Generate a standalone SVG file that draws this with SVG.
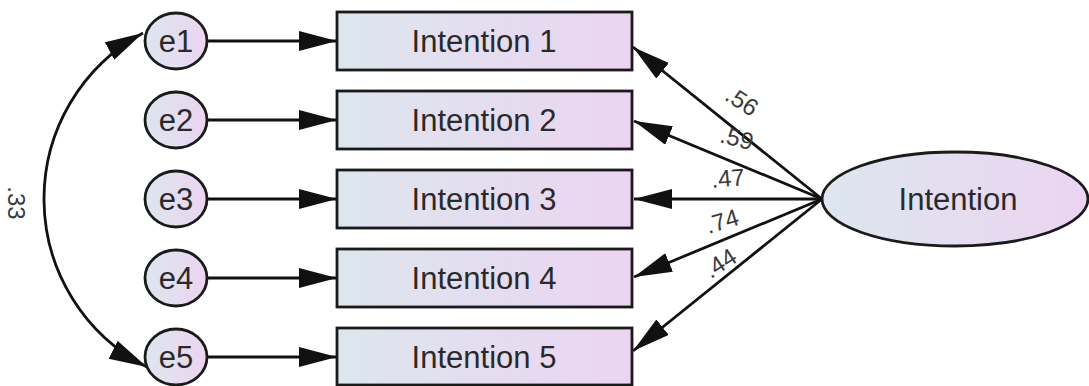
<svg xmlns="http://www.w3.org/2000/svg" width="1089" height="386" viewBox="0 0 1089 386">
<defs>
<linearGradient id="g" x1="0" y1="0" x2="1" y2="0">
<stop offset="0" stop-color="#dde6ee"/>
<stop offset="1" stop-color="#ecd4f1"/>
</linearGradient>
<marker id="ah" markerUnits="userSpaceOnUse" markerWidth="40" markerHeight="22" refX="38" refY="10" orient="auto-start-reverse">
<path d="M0,0 L38,10 L0,20 z" fill="#111"/>
</marker>
<style>
.n{fill:url(#g);stroke:#1a1a1a;stroke-width:2.8}
.t{font-family:"Liberation Sans",Arial,sans-serif;fill:#2a2a2a;text-anchor:middle;dominant-baseline:central}
.lt{font-size:31px}
.c{font-family:"Liberation Sans",Arial,sans-serif;fill:#3a3a3a;font-size:24px;text-anchor:middle;dominant-baseline:central}
.e{stroke:#111;stroke-width:2.8;fill:none;marker-end:url(#ah)}
</style>
</defs>
<g id="connectors">
<path class="e" d="M207,41 L337,41"/>
<path class="e" d="M207,120 L337,120"/>
<path class="e" d="M207,199 L337,199"/>
<path class="e" d="M207,278 L337,278"/>
<path class="e" d="M207,357 L337,357"/>
<path class="e" d="M822,199 L633,47"/>
<path class="e" d="M822,199 L634,121"/>
<path class="e" d="M822,199 L634,199"/>
<path class="e" d="M822,199 L634,277"/>
<path class="e" d="M822,199 L633,351"/>
<path class="e" style="marker-start:url(#ah)" d="M143,33 A188.6,188.6 0 0 0 147,367"/>
<text class="c" transform="translate(742,101) rotate(33)">.56</text>
<text class="c" transform="translate(737,138) rotate(15)">.59</text>
<text class="c" transform="translate(728,178) rotate(-5)">.47</text>
<text class="c" transform="translate(722,221) rotate(-17)">.74</text>
<text class="c" transform="translate(720,263) rotate(-33)">.44</text>
<text class="c" transform="translate(16,203) rotate(90)">.33</text>
</g>
<g id="e1"><ellipse class="n" cx="176" cy="41" rx="31" ry="28"/><text class="t lt" x="176" y="41">e1</text></g>
<g id="e2"><ellipse class="n" cx="176" cy="120" rx="31" ry="28"/><text class="t lt" x="176" y="120">e2</text></g>
<g id="e3"><ellipse class="n" cx="176" cy="199" rx="31" ry="28"/><text class="t lt" x="176" y="199">e3</text></g>
<g id="e4"><ellipse class="n" cx="176" cy="278" rx="31" ry="28"/><text class="t lt" x="176" y="278">e4</text></g>
<g id="e5"><ellipse class="n" cx="176" cy="357" rx="31" ry="28"/><text class="t lt" x="176" y="357">e5</text></g>
<g id="intention1"><rect class="n" x="337" y="12" width="295" height="58"/><text class="t lt" x="484" y="41">Intention 1</text></g>
<g id="intention2"><rect class="n" x="337" y="91" width="295" height="58"/><text class="t lt" x="484" y="120">Intention 2</text></g>
<g id="intention3"><rect class="n" x="337" y="170" width="295" height="58"/><text class="t lt" x="484" y="199">Intention 3</text></g>
<g id="intention4"><rect class="n" x="337" y="249" width="295" height="58"/><text class="t lt" x="484" y="278">Intention 4</text></g>
<g id="intention5"><rect class="n" x="337" y="328" width="295" height="57"/><text class="t lt" x="484" y="357">Intention 5</text></g>
<g id="intention"><ellipse class="n" cx="955" cy="199" rx="133" ry="47"/><text class="t lt" x="958" y="199">Intention</text></g>
</svg>
